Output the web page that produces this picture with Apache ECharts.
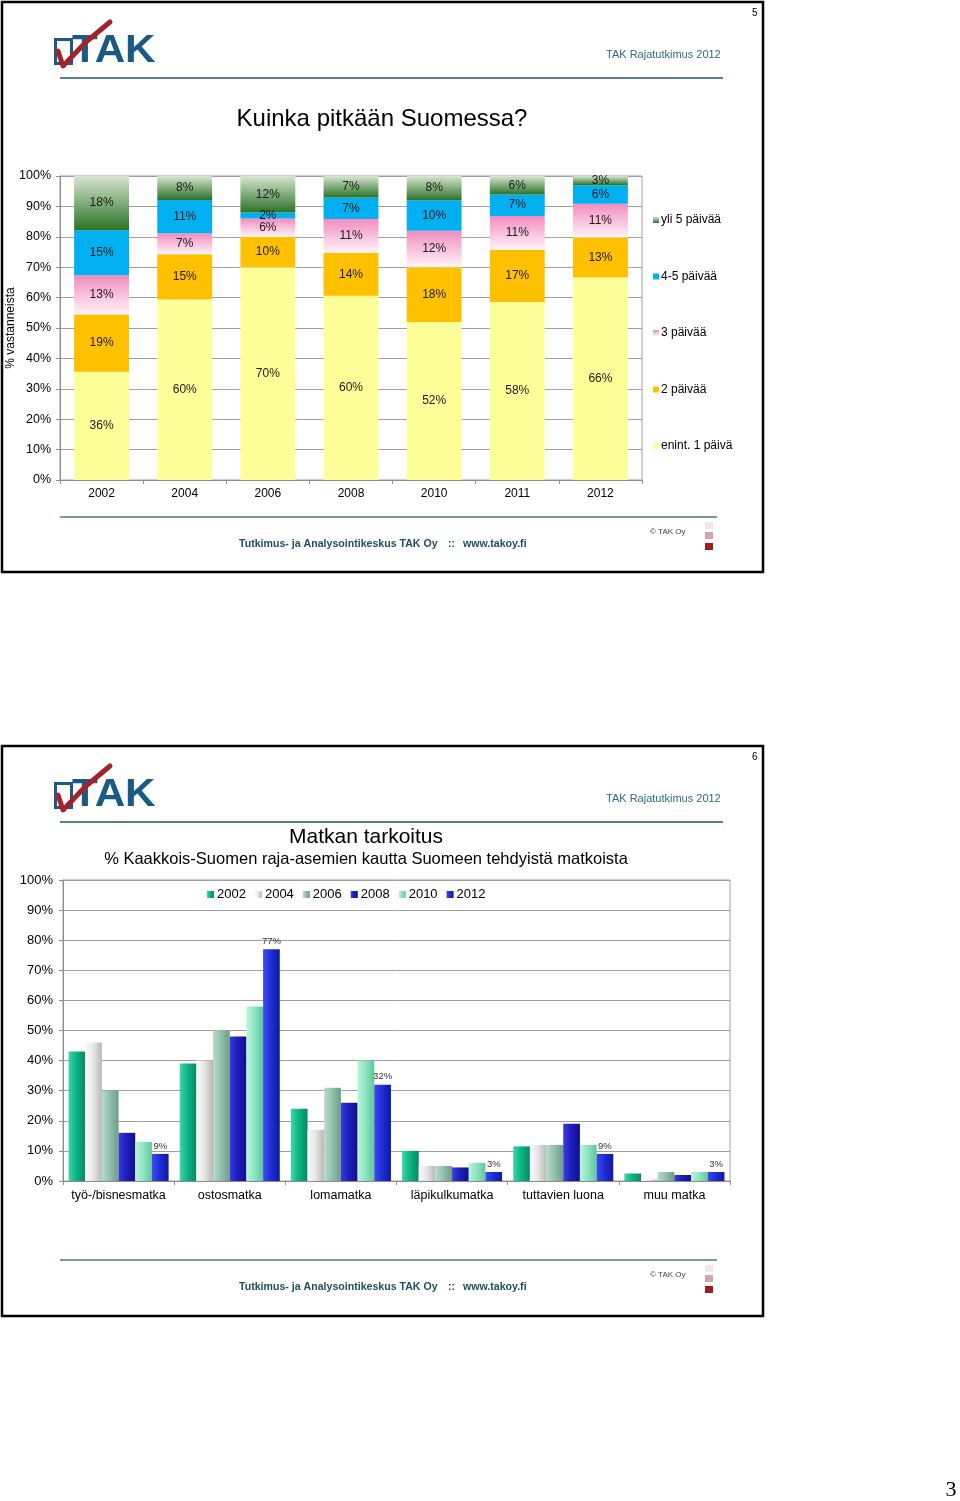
<!DOCTYPE html>
<html><head><meta charset="utf-8">
<script src="https://cdn.jsdelivr.net/npm/echarts@6/dist/echarts.min.js"></script>
<style>html,body{margin:0;padding:0;background:#fff}#c{width:960px;height:1501px}</style>
</head><body><div id="c"></div>
<script>
// ---- Chart 1 data: Kuinka pitkään Suomessa? ----
const years = ['2002','2004','2006','2008','2010','2011','2012'];
const stayNames = ['enint. 1 päivä','2 päivää','3 päivää','4-5 päivää','yli 5 päivää'];
const stay1 = [36,60,70,60,52,58,66];
const stay2 = [19,15,10,14,18,17,13];
const stay3 = [13,7,6,11,12,11,11];
const stay45 = [15,11,2,7,10,7,6];
const stay5plus = [18,8,12,7,8,6,3];
const pctTicks = ['0%','10%','20%','30%','40%','50%','60%','70%','80%','90%','100%'];

// ---- Chart 2 data: Matkan tarkoitus ----
const purposes = ['työ-/bisnesmatka','ostosmatka','lomamatka','läpikulkumatka','tuttavien luona','muu matka'];
const surveyYears = ['2002','2004','2006','2008','2010','2012'];
const p2002 = [43,39,24,10,11.5,2.5];
const p2004 = [46,40,17,5,12,0.5];
const p2006 = [30,50,31,5,12,3];
const p2008 = [16,48,26,4.5,19,2];
const p2010 = [13,58,40,6,12,3];
const p2012 = [9,77,32,3,9,3];

const FONT = '"Liberation Sans", Arial, Helvetica, sans-serif';
const chart = echarts.init(document.getElementById('c'), null, {renderer:'canvas'});

// 100% stacked: scale each year's raw values to its total
const stayRaw = [stay1, stay2, stay3, stay45, stay5plus];
const totals = years.map((_, i) => stayRaw.reduce((s, arr) => s + arr[i], 0));
const vgrad = (top, bottom) => ({type:'linear', x:0, y:0, x2:0, y2:1, colorStops:[{offset:0,color:top},{offset:1,color:bottom}]});
const hgrad = (a, b, c) => ({type:'linear', x:0, y:0, x2:1, y2:0, colorStops:[{offset:0,color:a},{offset:0.45,color:b},{offset:1,color:c}]});
const stayColors = ['#ffff99', '#ffc000', vgrad('#f28cbf','#fff4f8'), '#00b0f0', vgrad('#d8e6d2','#2a7226')];

const series = stayRaw.map((raw, k) => ({
  name: stayNames[k], type:'bar', stack:'s', xAxisIndex:0, yAxisIndex:0,
  barCategoryGap:'34%',
  data: raw.map((v, i) => v / totals[i] * 100),
  itemStyle:{color: stayColors[k]},
  label:{show:true, position:'inside', fontFamily:FONT, fontSize:12, color:'#1a1a1a',
    formatter: p => raw[p.dataIndex] + '%'},
  emphasis:{disabled:true}
}));

const pRaw = [p2002,p2004,p2006,p2008,p2010,p2012];
const pColors = [
  hgrad('#3fd6aa','#0cb486','#078a66'),
  hgrad('#fafafa','#e8e8e8','#b8b8b8'),
  hgrad('#b5dccb','#92c2ad','#6d9c88'),
  hgrad('#3a3ae0','#1e1ebf','#10108a'),
  hgrad('#b8f5dc','#90e6c2','#62c69c'),
  hgrad('#3d4cf0','#1f2fd6','#1018a0')
];
pRaw.forEach((arr, k) => {
  series.push({
    name: surveyYears[k], type:'bar', xAxisIndex:1, yAxisIndex:1,
    barGap:'0%', barCategoryGap:'10%',
    data: arr,
    itemStyle:{color: pColors[k]},
    label:{show: k === 5, position:'top', distance:3, fontFamily:FONT, fontSize:9.5, color:'#333',
      formatter: p => p.value + '%'},
    emphasis:{disabled:true}
  });
});

function slideGraphics(dy, pageNo, footerY) {
  const g = [];
  g.push({type:'rect', shape:{x:2, y:2+dy, width:761, height:570}, style:{fill:'none', stroke:'#000', lineWidth:2.5}, z:10});
  g.push({type:'text', x:752, y:13+dy, style:{text:pageNo, font:'10px '+FONT, fill:'#000', textVerticalAlign:'middle'}});
  // logo
  g.push({type:'rect', shape:{x:55.5, y:39.5+dy, width:16, height:24}, style:{fill:'#fff', stroke:'#1b5a87', lineWidth:3}});
  g.push({type:'text', x:72, y:52+dy, scaleX:1.11, originX:0, originY:0,
    style:{text:'TAK', font:'bold 38px '+FONT, fill:'#1b5a87', textVerticalAlign:'middle'}});
  g.push({type:'polyline', shape:{points:[[58,51+dy],[63,66+dy],[86,42+dy],[110,22+dy]]},
    style:{stroke:'#a2232a', lineWidth:5, fill:'none', lineCap:'round', lineJoin:'round'}});
  g.push({type:'text', x:606, y:55+dy, style:{text:'TAK Rajatutkimus 2012', font:'11px '+FONT, fill:'#2d6a7c', textVerticalAlign:'middle'}});
  g.push({type:'line', shape:{x1:60, y1:78+dy, x2:723, y2:78+dy}, style:{stroke:'#5a8088', lineWidth:2}});
  // footer
  g.push({type:'line', shape:{x1:60, y1:footerY, x2:717, y2:footerY}, style:{stroke:'#4a7a80', lineWidth:1.5}});
  g.push({type:'text', x:239, y:footerY+27, style:{text:'Tutkimus- ja Analysointikeskus TAK Oy', font:'bold 10.6px '+FONT, fill:'#1d4f5e', textVerticalAlign:'middle'}});
  g.push({type:'text', x:448, y:footerY+27, style:{text:'::', font:'bold 10.6px '+FONT, fill:'#1d4f5e', textVerticalAlign:'middle'}});
  g.push({type:'text', x:463, y:footerY+27, style:{text:'www.takoy.fi', font:'bold 10.6px '+FONT, fill:'#1d4f5e', textVerticalAlign:'middle'}});
  g.push({type:'text', x:650, y:footerY+15, style:{text:'© TAK Oy', font:'8px '+FONT, fill:'#444', textVerticalAlign:'middle'}});
  g.push({type:'rect', shape:{x:705, y:footerY+5, width:8, height:7}, style:{fill:'#f2e4e8'}});
  g.push({type:'rect', shape:{x:705, y:footerY+15, width:8, height:7}, style:{fill:'#d6a4ad'}});
  g.push({type:'rect', shape:{x:705, y:footerY+26, width:8, height:7}, style:{fill:'#9b1d22'}});
  return g;
}

const graphics = [].concat(
  slideGraphics(0, '5', 517),
  slideGraphics(744, '6', 1260),
  [
    {type:'text', x:382, y:119, style:{text:'Kuinka pitkään Suomessa?', font:'24px '+FONT, fill:'#000', textAlign:'center', textVerticalAlign:'middle'}},
    {type:'text', x:11, y:328, rotation:Math.PI/2, style:{text:'% vastanneista', font:'12px '+FONT, fill:'#000', textAlign:'center', textVerticalAlign:'middle'}},
    {type:'text', x:366, y:837, style:{text:'Matkan tarkoitus', font:'21px '+FONT, fill:'#000', textAlign:'center', textVerticalAlign:'middle'}},
    {type:'text', x:366, y:859, style:{text:'% Kaakkois-Suomen raja-asemien kautta Suomeen tehdyistä matkoista', font:'16.5px '+FONT, fill:'#000', textAlign:'center', textVerticalAlign:'middle'}},
    {type:'text', x:951, y:1490, style:{text:'3', font:'22px "Liberation Serif", "DejaVu Serif", serif', fill:'#000', textAlign:'center', textVerticalAlign:'middle'}}
  ]
);

const axisLineStyle = {color:'#8c8c8c', width:1};
const option = {
  backgroundColor:'#fff',
  animation:false,
  textStyle:{fontFamily:FONT},
  grid:[
    {left:60, right:318, top:176, bottom:1021, show:true, borderColor:'#a0a0a0', borderWidth:1, containLabel:false, outerBoundsMode:'none'},
    {left:63, right:230, top:880, bottom:320, show:true, borderColor:'#a0a0a0', borderWidth:1, containLabel:false, outerBoundsMode:'none'}
  ],
  legend:[
    {orient:'vertical', left:648, top:209, itemGap:44.5, itemWidth:6, itemHeight:6, icon:'rect',
      data:['yli 5 päivää','4-5 päivää','3 päivää','2 päivää','enint. 1 päivä'],
      textStyle:{fontFamily:FONT, fontSize:12, color:'#000', padding:[0,0,0,-3]}, selectedMode:false},
    {orient:'horizontal', left:202, top:883, itemGap:9, itemWidth:7, itemHeight:7, icon:'rect',
      data: surveyYears,
      textStyle:{fontFamily:FONT, fontSize:13, color:'#000', padding:[0,0,0,-2]}, selectedMode:false}
  ],
  xAxis:[
    {type:'category', gridIndex:0, data:years,
      axisLine:{lineStyle:axisLineStyle}, axisTick:{show:true, length:4, lineStyle:axisLineStyle},
      axisLabel:{fontFamily:FONT, fontSize:12, color:'#000', margin:8, interval:0}},
    {type:'category', gridIndex:1, data:purposes,
      axisLine:{lineStyle:axisLineStyle}, axisTick:{show:true, length:4, lineStyle:axisLineStyle},
      axisLabel:{fontFamily:FONT, fontSize:12.5, color:'#000', margin:8, interval:0}}
  ],
  yAxis:[
    {type:'value', gridIndex:0, min:0, max:100, interval:10,
      axisLine:{show:true, lineStyle:axisLineStyle}, axisTick:{show:true, length:4, lineStyle:axisLineStyle},
      splitLine:{show:true, lineStyle:{color:'#a0a0a0', width:1}},
      axisLabel:{fontFamily:FONT, fontSize:12.5, color:'#000', margin:9, formatter: v => pctTicks[Math.round(v/10)]}},
    {type:'value', gridIndex:1, min:0, max:100, interval:10,
      axisLine:{show:true, lineStyle:axisLineStyle}, axisTick:{show:true, length:4, lineStyle:axisLineStyle},
      splitLine:{show:true, lineStyle:{color:'#a0a0a0', width:1}},
      axisLabel:{fontFamily:FONT, fontSize:13, color:'#000', margin:10, formatter: v => pctTicks[Math.round(v/10)]}}
  ],
  series: series,
  graphic: graphics
};
chart.setOption(option);
</script>
</body></html>
